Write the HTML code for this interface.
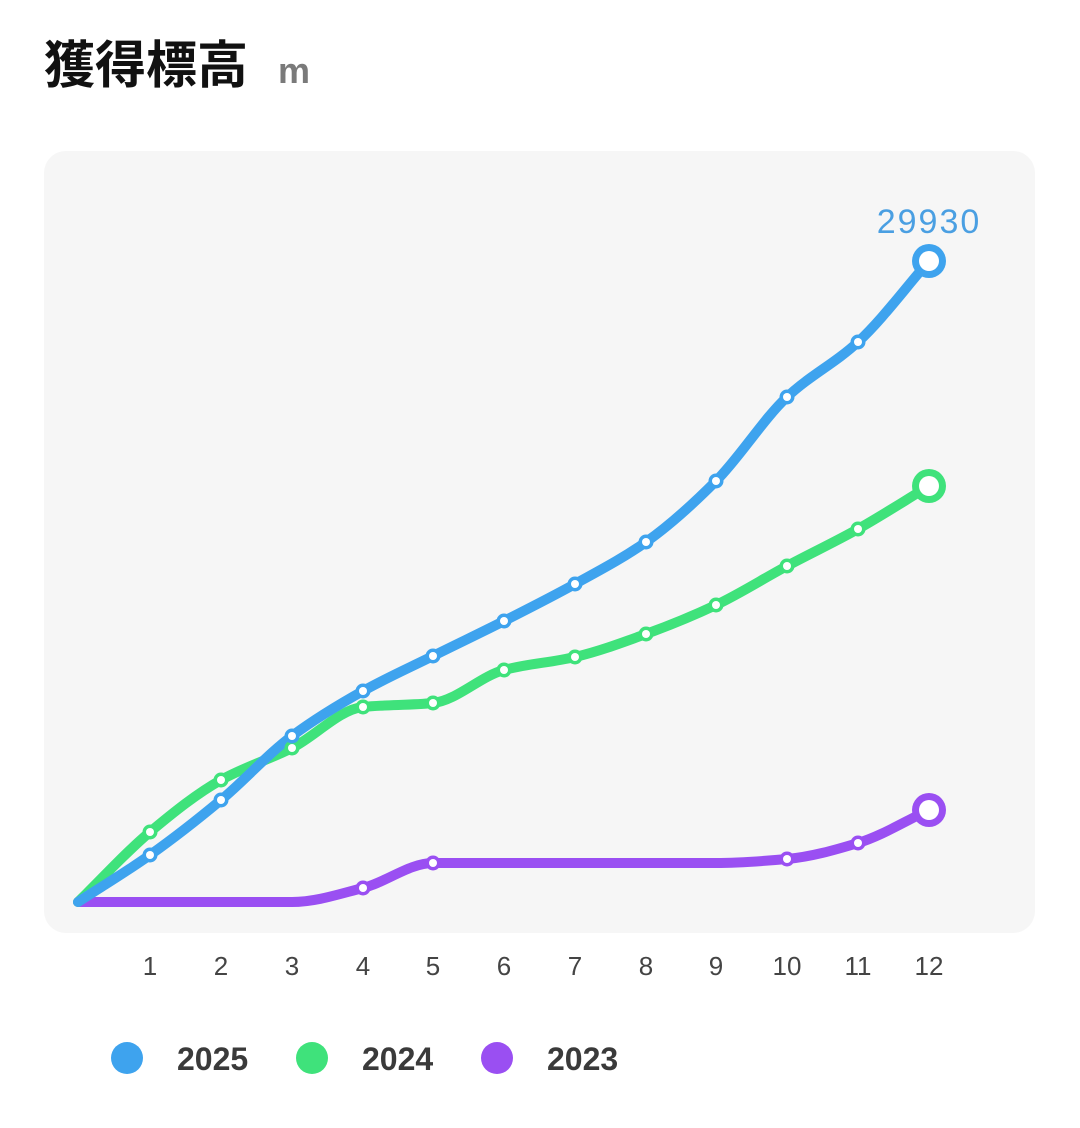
<!DOCTYPE html>
<html><head><meta charset="utf-8">
<style>
html,body{margin:0;padding:0;background:#fff;}
body{width:1080px;height:1128px;position:relative;overflow:hidden;font-family:"Liberation Sans","Noto Sans CJK JP",sans-serif;}
.title{position:absolute;left:44px;top:35px;font-size:51px;font-weight:bold;color:#111;letter-spacing:0px;font-family:"Liberation Sans","Noto Sans CJK JP",sans-serif;line-height:1.2;}
.unit{position:absolute;left:278px;top:50px;font-size:36px;font-weight:bold;color:#7a7a7a;}
.panel{position:absolute;left:44px;top:151px;width:991px;height:782px;background:#f6f6f6;border-radius:22px;}
svg{position:absolute;left:0;top:0;}
</style></head><body>
<div class="title">獲得標高</div>
<div class="unit">m</div>
<div class="panel"></div>
<svg width="1080" height="1128" viewBox="0 0 1080 1128">
<g id="lines" fill="none" stroke-width="10" stroke-linecap="round" stroke-linejoin="round"></g>
<g id="marks"></g>
<text x="929" y="233" text-anchor="middle" font-family="Liberation Sans, sans-serif" font-size="34" fill="#4a9fe2" letter-spacing="2">29930</text>
<g font-family="Liberation Sans, sans-serif" font-size="26" fill="#444" text-anchor="middle">
<text x="150" y="975">1</text><text x="221" y="975">2</text><text x="292" y="975">3</text><text x="363" y="975">4</text><text x="433" y="975">5</text><text x="504" y="975">6</text><text x="575" y="975">7</text><text x="646" y="975">8</text><text x="716" y="975">9</text><text x="787" y="975">10</text><text x="858" y="975">11</text><text x="929" y="975">12</text>
</g>
<circle cx="127" cy="1058" r="16" fill="#3ea3ee"/>
<circle cx="312" cy="1058" r="16" fill="#3fe27b"/>
<circle cx="497" cy="1058" r="16" fill="#9a4ff2"/>
<g font-family="Liberation Sans, sans-serif" font-size="32" font-weight="bold" fill="#3a3a3a">
<text x="177" y="1070">2025</text><text x="362" y="1070">2024</text><text x="547" y="1070">2023</text>
</g>
</svg>
<script>
var xs=[78,150,221,292,363,433,504,575,646,716,787,858,929];
var series=[
 {c:"#9a4ff2",y:[902,902,902,902,888,863,863,863,863,863,859,843,810]},
 {c:"#3fe27b",y:[902,832,780,748,707,703,670,657,634,605,566,529,486]},
 {c:"#3ea3ee",y:[902,855,800,736,691,656,621,584,542,481,397,342,261]}
];
function mono(x,y){
 var n=x.length,d=[],m=[],i;
 for(i=0;i<n-1;i++)d.push((y[i+1]-y[i])/(x[i+1]-x[i]));
 m[0]=d[0];m[n-1]=d[n-2];
 for(i=1;i<n-1;i++){ if(d[i-1]*d[i]<=0)m[i]=0; else m[i]=2/(1/d[i-1]+1/d[i]); }
 var p="M"+x[0]+","+y[0];
 for(i=0;i<n-1;i++){var h=(x[i+1]-x[i])/3;
  p+=" C"+(x[i]+h)+","+(y[i]+m[i]*h)+" "+(x[i+1]-h)+","+(y[i+1]-m[i+1]*h)+" "+x[i+1]+","+y[i+1];}
 return p;
}
var ns="http://www.w3.org/2000/svg";
var L=document.getElementById("lines"),M=document.getElementById("marks");
series.forEach(function(s){
 var p=document.createElementNS(ns,"path");p.setAttribute("d",mono(xs,s.y));p.setAttribute("stroke",s.c);L.appendChild(p);
});
series.forEach(function(s){
 for(var i=1;i<13;i++){
  var big=(i==12);
  if(!big && s.y[i]==s.y[i-1]) continue;
  var c=document.createElementNS(ns,"circle");c.setAttribute("cx",xs[i]);c.setAttribute("cy",s.y[i]);c.setAttribute("r",big?17:7.5);c.setAttribute("fill",s.c);M.appendChild(c);
  var w=document.createElementNS(ns,"circle");w.setAttribute("cx",xs[i]);w.setAttribute("cy",s.y[i]);w.setAttribute("r",big?10:4);w.setAttribute("fill","#fff");M.appendChild(w);
 }
});
</script>
</body></html>
